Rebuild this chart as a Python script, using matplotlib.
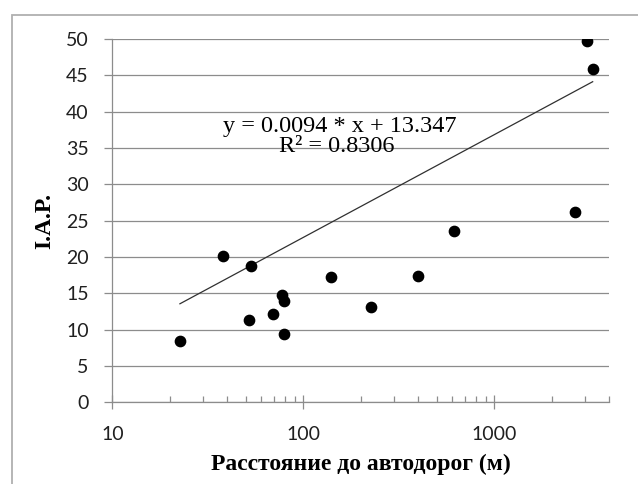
import numpy as np
import matplotlib
matplotlib.use("Agg")
import matplotlib.pyplot as plt
import matplotlib.patches as mpatches
from matplotlib.ticker import LogLocator, FixedLocator, NullFormatter

# distance to roads (m) and I.A.P. values
distance = [22.6, 38, 53, 52, 69.7, 77, 79.5, 79.5, 139, 225, 400, 617, 2646, 3070, 3274]
iap = [8.4, 20.1, 18.8, 11.3, 12.1, 14.7, 14.0, 9.4, 17.2, 13.15, 17.4, 23.6, 26.2, 49.7, 45.9]

# trendline as printed on the chart
slope = 0.0094
intercept = 13.347
r2 = 0.8306

y_ticks = [0, 5, 10, 15, 20, 25, 30, 35, 40, 45, 50]
x_ticks = [10, 100, 1000]

GRID = "#8c8c8c"

fig = plt.figure(figsize=(6.38, 4.84), dpi=100)
ax = fig.add_axes([0.176, 0.1688, 0.779, 0.7506])

# outer chart frame (runs off the right and bottom edges)
frame = mpatches.Rectangle((12 / 638, -0.1), 1.2, 1.1 - 15 / 484, transform=fig.transFigure,
                           fill=False, edgecolor="#b0b0b0", linewidth=1.3)
fig.patches.append(frame)

ax.set_xscale("log")
ax.set_xlim(10, 4000)
ax.set_ylim(0, 50)

ax.set_yticks(y_ticks)
ax.yaxis.grid(True, color=GRID, linewidth=0.9)
ax.set_axisbelow(True)

ax.xaxis.set_major_locator(FixedLocator(x_ticks))
ax.set_xticklabels([str(t) for t in x_ticks])
ax.xaxis.set_minor_locator(LogLocator(base=10, subs=np.arange(2, 10)))
ax.xaxis.set_minor_formatter(NullFormatter())

for side in ["top", "right"]:
    ax.spines[side].set_visible(False)
for side in ["left", "bottom"]:
    ax.spines[side].set_color(GRID)
    ax.spines[side].set_linewidth(0.9)

ax.tick_params(axis="y", which="major", direction="out", length=6, width=0.9, color=GRID,
               pad=11, labelsize=14)
ax.tick_params(axis="x", which="major", direction="inout", length=9.5, width=0.9, color=GRID,
               pad=12, labelsize=14)
ax.tick_params(axis="x", which="minor", direction="in", length=4, width=0.9, color=GRID)
for lab in ax.get_xticklabels() + ax.get_yticklabels():
    lab.set_fontfamily("Lato")
    lab.set_color("#202020")

ax.scatter(distance, iap, s=55, color="black", zorder=3)

# trendline drawn between min and max distance
x_line = np.array([min(distance), max(distance)])
ax.plot(x_line, slope * x_line + intercept, color="#303030", linewidth=0.9, zorder=2)

ax.text(0.458, 0.7605, f"y = {slope} * x + {intercept}", transform=ax.transAxes,
        ha="center", va="center", fontsize=17.5, family="Liberation Serif")
ax.text(0.452, 0.703, f"R² = {r2}", transform=ax.transAxes,
        ha="center", va="center", fontsize=17.5, family="Liberation Serif")

ax.set_ylabel("I.A.P.", fontsize=17, fontweight="bold", family="Liberation Serif", labelpad=8)
ax.set_xlabel("Расстояние до автодорог (м)", fontsize=17, fontweight="bold",
              family="Liberation Serif", labelpad=8)

fig.savefig("out.png", dpi=100)
